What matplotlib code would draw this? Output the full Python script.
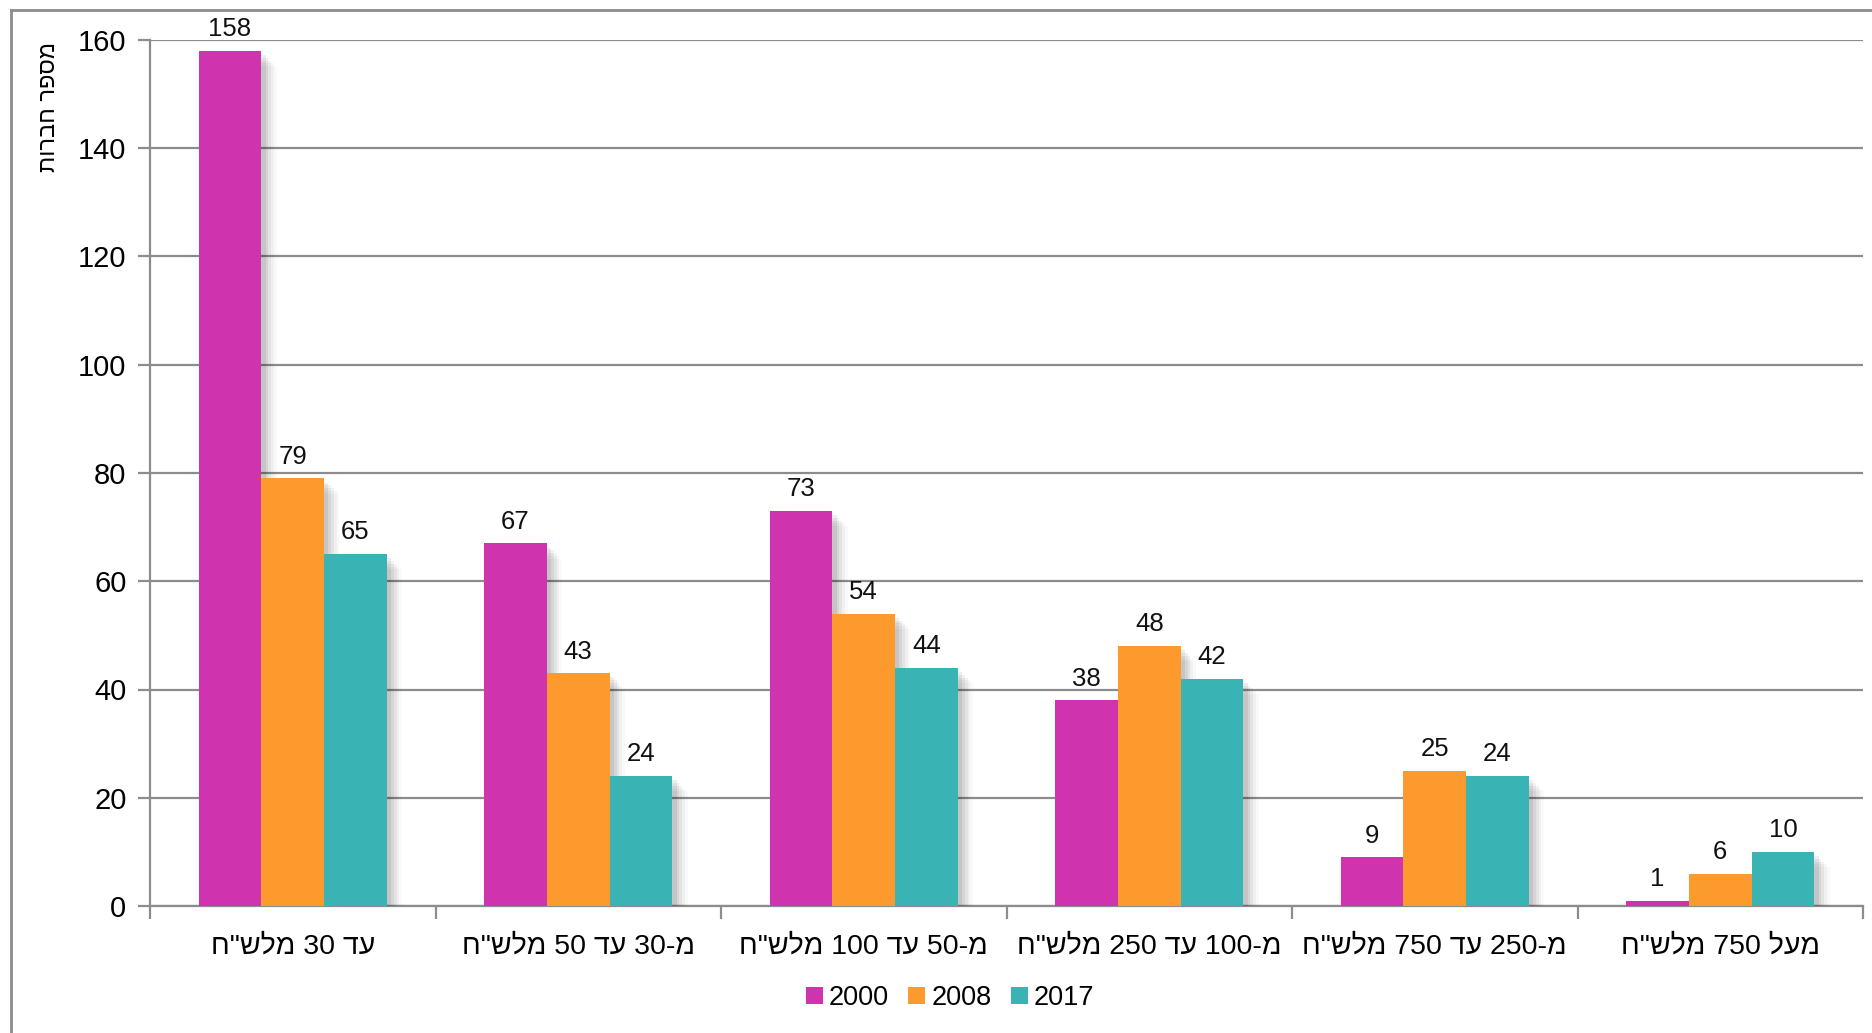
import re
import matplotlib
matplotlib.use("Agg")
import matplotlib.pyplot as plt
import matplotlib.patheffects as pe
from matplotlib.lines import Line2D
import numpy as np

categories = ['עד 30 מלש"ח', 'מ-30 עד 50 מלש"ח', 'מ-50 עד 100 מלש"ח',
              'מ-100 עד 250 מלש"ח', 'מ-250 עד 750 מלש"ח', 'מעל 750 מלש"ח']
series_names = ['2000', '2008', '2017']
values_2000 = [158, 67, 73, 38, 9, 1]
values_2008 = [79, 43, 54, 48, 25, 6]
values_2017 = [65, 24, 44, 42, 24, 10]
y_ticks = [0, 20, 40, 60, 80, 100, 120, 140, 160]
y_label = 'מספר חברות'

colors = ['#D033AE', '#FD9A2D', '#39B3B4']


def visual(s):
    """Simple bidi: reverse Hebrew string, keep digit runs left-to-right."""
    r = s[::-1]
    return re.sub(r'\d+', lambda m: m.group(0)[::-1], r)


plt.rcParams['font.family'] = ['Liberation Sans', 'DejaVu Sans']

fig = plt.figure(figsize=(18.72, 10.33), dpi=100)
fig.patch.set_facecolor('white')
ax = fig.add_axes([150 / 1872, 1 - 906 / 1033, (1863 - 150) / 1872, (906 - 40) / 1033])

x = np.arange(len(categories))
width = 0.22
shadow = [pe.SimplePatchShadow(offset=(o, -o), shadow_rgbFace='black', alpha=a)
          for o, a in [(11, 0.025), (9, 0.035), (7, 0.05), (5, 0.06), (3, 0.07)]]
for i, vals in enumerate([values_2000, values_2008, values_2017]):
    bars = ax.bar(x + (i - 1) * width, vals, width, color=colors[i],
                  label=series_names[i], zorder=3, linewidth=0)
    for b in bars:
        b.set_path_effects(shadow + [pe.Normal()])
    for xi, v in zip(x + (i - 1) * width, vals):
        ax.annotate(str(v), (xi, v), xytext=(0, 7), textcoords='offset points',
                    ha='center', va='bottom', fontsize=18.5, color='#111111', zorder=4)

ax.set_xlim(-0.5, len(categories) - 0.5)
ax.set_ylim(0, 160)
ax.set_yticks(y_ticks)
ax.set_yticklabels([str(t) for t in y_ticks], fontsize=21)
ax.yaxis.grid(True, color='#8c8c8c', linewidth=1.6, zorder=0)
ax.set_axisbelow(True)

ax.set_xticks(np.arange(len(categories) + 1) - 0.5)
ax.set_xticklabels([])
ax.set_xticks(x, minor=True)
ax.set_xticklabels([visual(c) for c in categories], minor=True, fontsize=20.5)
ax.tick_params(axis='x', which='minor', length=0, pad=20)
ax.tick_params(axis='x', which='major', length=9, width=1.6, color='#8c8c8c', direction='out')
ax.tick_params(axis='y', length=9, width=1.6, color='#8c8c8c', direction='out', pad=8)

for s in ['top', 'right']:
    ax.spines[s].set_visible(False)
for s in ['left', 'bottom']:
    ax.spines[s].set_color('#8c8c8c')
    ax.spines[s].set_linewidth(1.6)

fig.text(49 / 1872, 1 - 107 / 1033, visual(y_label), rotation=90, ha='center', va='center',
         fontsize=17)

leg = ax.legend(loc='center', bbox_to_anchor=((950 - 150) / 1713, (906 - 998) / 866), ncol=3,
                frameon=False, fontsize=19.5, handlelength=0.63, handleheight=0.63,
                handletextpad=0.22, columnspacing=0.72, borderpad=0)
for p in leg.get_patches():
    p.set_path_effects([])

# outer frame
fig.add_artist(Line2D([11 / 1872, 1], [1 - 10 / 1033, 1 - 10 / 1033], color='#8c8c8c', lw=2))
fig.add_artist(Line2D([11 / 1872, 11 / 1872], [0, 1 - 10 / 1033], color='#8c8c8c', lw=2))

fig.savefig('out.png', dpi=100, facecolor='white')
